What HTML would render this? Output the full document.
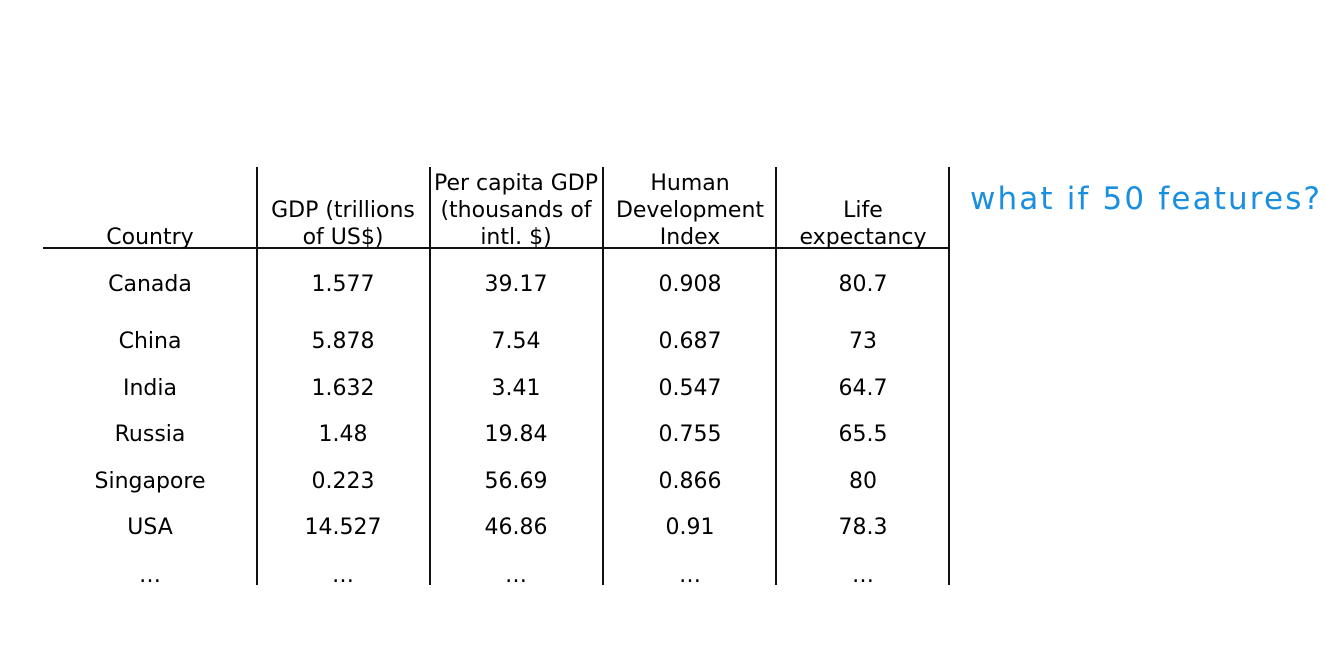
<!DOCTYPE html>
<html><head><meta charset="utf-8"><style>
html,body{margin:0;padding:0;background:#fff;width:1325px;height:660px;overflow:hidden}
svg text{font-family:"DejaVu Sans","Liberation Sans",sans-serif;fill:#000}
</style></head><body>
<svg width="1325" height="660">
<g stroke="#111" stroke-width="2">
<line x1="43" y1="248" x2="949" y2="248"/>
<line x1="257" y1="167" x2="257" y2="585"/>
<line x1="430" y1="167" x2="430" y2="585"/>
<line x1="603" y1="167" x2="603" y2="585"/>
<line x1="776" y1="167" x2="776" y2="585"/>
<line x1="949" y1="167" x2="949" y2="585"/>
</g>
<g font-size="22" text-anchor="middle">
<text x="150" y="244">Country</text>
<text x="343" y="217">GDP (trillions</text>
<text x="343" y="244">of US$)</text>
<text x="516" y="190" textLength="164">Per capita GDP</text>
<text x="516" y="217">(thousands of</text>
<text x="516" y="244">intl. $)</text>
<text x="690" y="190">Human</text>
<text x="690" y="217">Development</text>
<text x="690" y="244">Index</text>
<text x="863" y="217">Life</text>
<text x="863" y="244">expectancy</text>
</g>
<g font-size="22" text-anchor="middle">
<g><text x="150" y="291">Canada</text><text x="343" y="291">1.577</text><text x="516" y="291">39.17</text><text x="690" y="291">0.908</text><text x="863" y="291">80.7</text></g>
<g><text x="150" y="348">China</text><text x="343" y="348">5.878</text><text x="516" y="348">7.54</text><text x="690" y="348">0.687</text><text x="863" y="348">73</text></g>
<g><text x="150" y="395">India</text><text x="343" y="395">1.632</text><text x="516" y="395">3.41</text><text x="690" y="395">0.547</text><text x="863" y="395">64.7</text></g>
<g><text x="150" y="441">Russia</text><text x="343" y="441">1.48</text><text x="516" y="441">19.84</text><text x="690" y="441">0.755</text><text x="863" y="441">65.5</text></g>
<g><text x="150" y="488">Singapore</text><text x="343" y="488">0.223</text><text x="516" y="488">56.69</text><text x="690" y="488">0.866</text><text x="863" y="488">80</text></g>
<g><text x="150" y="534">USA</text><text x="343" y="534">14.527</text><text x="516" y="534">46.86</text><text x="690" y="534">0.91</text><text x="863" y="534">78.3</text></g>
<g><text x="150" y="582">…</text><text x="343" y="582">…</text><text x="516" y="582">…</text><text x="690" y="582">…</text><text x="863" y="582">…</text></g>
</g>
<text x="970" y="209" font-size="31" textLength="350" lengthAdjust="spacing" style="fill:#1a8fe0">what if 50 features?</text>
</svg>
</body></html>
